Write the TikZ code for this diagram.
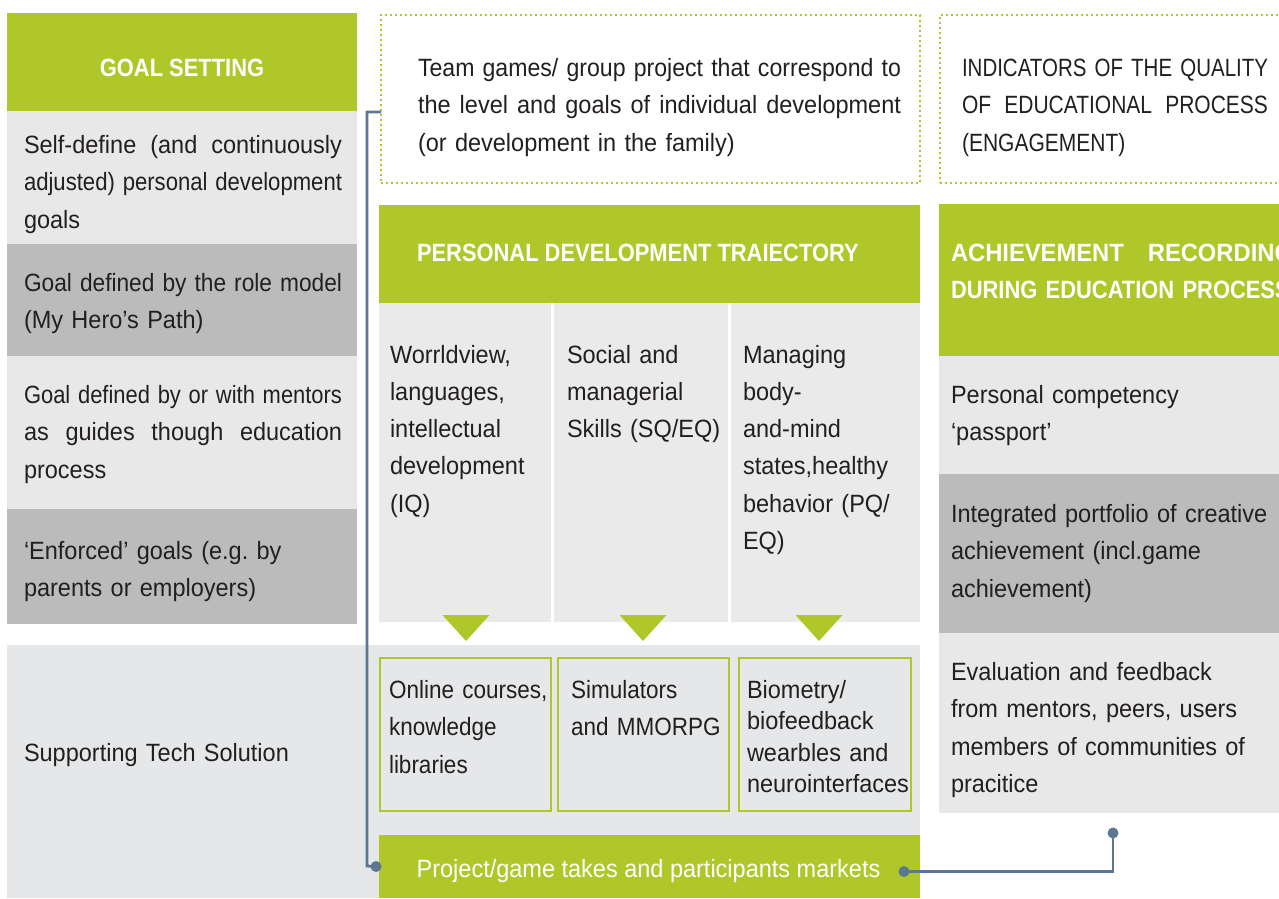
\documentclass[tikz,border=0pt]{standalone}
\usepackage{fontspec}
\usepackage{graphicx}
\setmainfont{Liberation Sans}[FakeStretch=0.94]
\newfontfamily\hdfont{Liberation Sans}[FakeStretch=0.876]
\newfontfamily\hdwide{Liberation Sans}[FakeStretch=0.95]
\newfontfamily\capfont{Liberation Sans}[FakeStretch=0.84]
\newfontfamily\nfont{Liberation Sans}[FakeStretch=0.9]
\frenchspacing
\usetikzlibrary{calc}
\definecolor{lime}{RGB}{175,199,41}
\definecolor{lgray}{RGB}{232,232,232}
\definecolor{dgray}{RGB}{187,187,187}
\definecolor{bgray}{RGB}{230,231,232}
\definecolor{cgray}{RGB}{234,234,234}
\definecolor{ink}{RGB}{35,31,32}
\definecolor{slate}{RGB}{92,119,145}
\newsavebox\flbox
\newcommand\fitline[2]{\leavevmode\sbox\flbox{#2}\ifdim\wd\flbox>#1\relax\resizebox{#1}{\height}{\usebox\flbox}\else\hbox to #1{\spaceskip=\fontdimen2\font plus 1fill\relax #2}\fi}
\tikzset{
  box/.style={anchor=north west, inner sep=0pt, outer sep=0pt, draw=none},
  dotbox/.style={box, draw=lime, line width=2.4pt, dash pattern=on 2.4pt off 2.6pt},
  techbox/.style={box, draw=lime, fill=bgray, line width=2.5pt},
  txt/.style={anchor=base west, inner sep=0pt, outer sep=0pt, text=ink, font=\fontsize{25}{37.5}\selectfont, align=left, text width=500pt},
  hdr/.style={inner sep=0pt, outer sep=0pt, text=white, font=\hdfont\bfseries\fontsize{25}{37}\selectfont},
  conn/.style={draw=slate, line width=2.8pt},
  tri/.style={fill=lime}
}
\begin{document}
\begin{tikzpicture}[x=1pt,y=-1pt]
\useasboundingbox (0,0) rectangle (1279,898);
\clip (0,0) rectangle (1279,898);
\fill[white] (0,0) rectangle (1279,898);
% ---------- left column ----------
\node[box, fill=lime,  minimum width=350pt, minimum height=98pt]  (gs) at (7,13) {};
\node[box, fill=lgray, minimum width=350pt, minimum height=133pt] (l1) at (7,111) {};
\node[box, fill=dgray, minimum width=350pt, minimum height=112pt] (l2) at (7,244) {};
\node[box, fill=lgray, minimum width=350pt, minimum height=153pt] (l3) at (7,356) {};
\node[box, fill=dgray, minimum width=350pt, minimum height=115pt] (l4) at (7,509) {};
\node[box, fill=bgray, minimum width=913pt, minimum height=253pt] (band) at (7,645) {};
\node[hdr, anchor=base] (gst) at (182,76) {GOAL SETTING};
\node[txt] (l1t) at (24,153) {\fitline{318pt}{Self-define (and continuously}\\\fitline{318pt}{adjusted) personal development}\\goals};
\node[txt] (l2t) at (24,291) {\fitline{318pt}{Goal defined by the role model}\\(My Hero’s Path)};
\node[txt] (l3t) at (24,403) {\fitline{318pt}{Goal defined by or with mentors}\\\fitline{318pt}{as guides though education}\\process};
\node[txt] (l4t) at (24,559) {‘Enforced’ goals (e.g. by\\parents or employers)};
\node[txt] (bandt) at (24,761) {Supporting Tech Solution};
% ---------- middle column ----------
\node[dotbox, minimum width=539pt, minimum height=168pt] (team) at (381,15) {};
\node[txt, text width=600pt] (teamt) at (418,76) {\fitline{483pt}{Team games/ group project that correspond to}\\\fitline{483pt}{the level and goals of individual development}\\(or development in the family)};
\node[box, fill=lime, minimum width=541pt, minimum height=98pt] (pdt) at (379,205) {};
\node[hdr, anchor=base west] (pdtt) at (417,261) {PERSONAL DEVELOPMENT TRAIECTORY};
\node[box, fill=cgray, minimum width=172pt, minimum height=319pt] (c1) at (379,303) {};
\node[box, fill=cgray, minimum width=174pt, minimum height=319pt] (c2) at (554,303) {};
\node[box, fill=cgray, minimum width=189pt, minimum height=319pt] (c3) at (731,303) {};
\node[txt, font=\fontsize{25}{37.3}\selectfont] (c1t) at (390,363) {Worrldview,\\languages,\\intellectual\\development\\(IQ)};
\node[txt, font=\fontsize{25}{37.3}\selectfont] (c2t) at (567,363) {Social and\\managerial\\Skills (SQ/EQ)};
\node[txt, font=\fontsize{25}{37.3}\selectfont] (c3t) at (743,363) {Managing\\body-\\and-mind\\states,healthy\\behavior (PQ/\\EQ)};
\fill[tri] (442.5,615) -- (489.5,615) -- (466,641) -- cycle;
\fill[tri] (619.5,615) -- (666.5,615) -- (643,641) -- cycle;
\fill[tri] (795.5,615) -- (842.5,615) -- (819,641) -- cycle;
\node[techbox, minimum width=171pt, minimum height=153pt] (t1) at (380,658) {};
\node[techbox, minimum width=171pt, minimum height=153pt] (t2) at (558,658) {};
\node[techbox, minimum width=172pt, minimum height=153pt] (t3) at (739,658) {};
\node[txt, font=\nfont\fontsize{25}{37.5}\selectfont] (t1t) at (389,698) {Online courses,\\knowledge\\libraries};
\node[txt, font=\nfont\fontsize{25}{37.5}\selectfont] (t2t) at (571,698) {Simulators\\and MMORPG};
\node[txt, font=\fontsize{25}{31.5}\selectfont] (t3t) at (747,698) {Biometry/\\biofeedback\\wearbles and\\neurointerfaces};
\node[box, fill=lime, minimum width=541pt, minimum height=63pt] (mkt) at (379,835) {};
\node[hdr, anchor=base, font=\fontsize{25}{37}\selectfont] (mktt) at (648.5,877) {Project/game takes and participants markets};
% ---------- right column ----------
\node[dotbox, minimum width=360pt, minimum height=168pt] (ind) at (940,15) {};
\node[txt, font=\capfont\fontsize{25}{37.5}\selectfont] (indt) at (962,76) {\fitline{306pt}{INDICATORS OF THE QUALITY}\\\fitline{306pt}{OF EDUCATIONAL PROCESS}\\(ENGAGEMENT)};
\node[box, fill=lime,  minimum width=350pt, minimum height=152pt] (arh) at (939,204) {};
\node[hdr, anchor=base west, align=left, text width=500pt] (arht) at (951,261) {{\hdwide\bfseries\fitline{342pt}{ACHIEVEMENT RECORDING}}\\DURING EDUCATION PROCESS};
\node[box, fill=lgray, minimum width=350pt, minimum height=118pt] (r1) at (939,356) {};
\node[box, fill=dgray, minimum width=350pt, minimum height=159pt] (r2) at (939,474) {};
\node[box, fill=lgray, minimum width=350pt, minimum height=180pt] (evalf) at (939,633) {};
\node[txt] (r1t) at (951,403) {Personal competency\\‘passport’};
\node[txt] (r2t) at (951,522) {Integrated portfolio of creative\\achievement (incl.game\\achievement)};
\node[txt] (r3t) at (951,680) {Evaluation and feedback\\from mentors, peers, users\\members of communities of\\pracitice};
% ---------- connectors ----------
\coordinate (lbend) at (367,866);
\coordinate (ldot) at ([xshift=-3pt]mkt.west);
\draw[conn] (team.west |- 0,112) -| (lbend) -- (ldot);
\fill[slate] (ldot) circle (5.5pt);
\coordinate (rstart) at ([xshift=-16pt,yshift=-5pt]mkt.east);
\coordinate (rend) at ([yshift=-20pt]evalf.south -| 1113,0);
\draw[conn] (rstart) -| (rend);
\fill[slate] (rstart) circle (5.5pt);
\fill[slate] (rend) circle (5.5pt);
\end{tikzpicture}
\end{document}
